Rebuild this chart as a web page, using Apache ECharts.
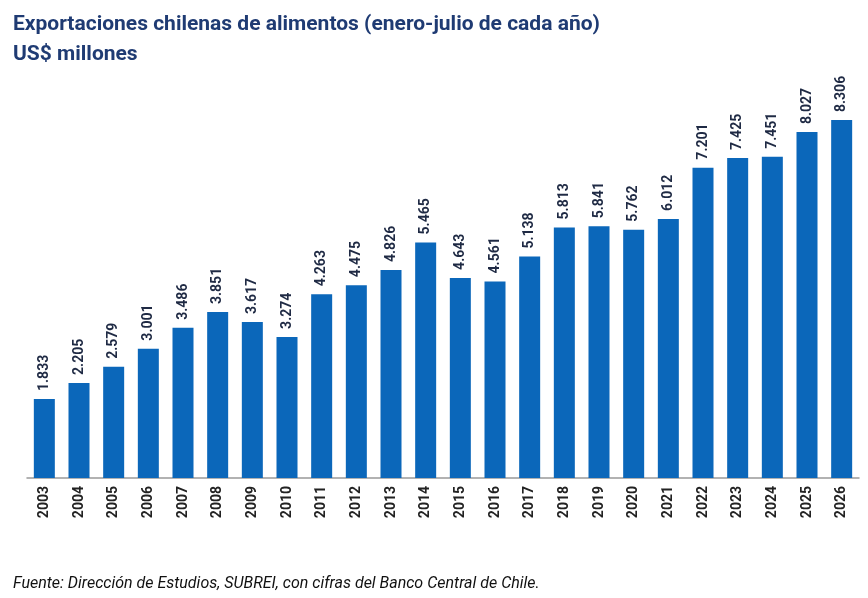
<!DOCTYPE html><html><head><meta charset="utf-8">
<script src="https://cdn.jsdelivr.net/npm/echarts@6/dist/echarts.min.js"></script>
<style>body{margin:0}#c{width:868px;height:598px}</style></head><body><div id="c"></div>
<script>
const years=['2003','2004','2005','2006','2007','2008','2009','2010','2011','2012','2013','2014','2015','2016','2017','2018','2019','2020','2021','2022','2023','2024','2025','2026'];
const values=[1833,2205,2579,3001,3486,3851,3617,3274,4263,4475,4826,5465,4643,4561,5138,5813,5841,5762,6012,7201,7425,7451,8027,8306];
const fmt=v=>String(v).replace(/\B(?=(\d{3})+(?!\d))/g,'.');
const ch=echarts.init(document.getElementById('c'));
ch.setOption({
 title:[{text:'Exportaciones chilenas de alimentos (enero-julio de cada año)\nUS$ millones',left:8,top:5,textStyle:{color:'#1F3B73',fontSize:21,fontWeight:'bold',fontFamily:'Roboto',lineHeight:30}},
  {text:'Fuente: Dirección de Estudios, SUBREI, con cifras del Banco Central de Chile.',left:8,top:571,textStyle:{color:'#111',fontSize:16,fontStyle:'italic',fontWeight:'normal',fontFamily:'Roboto'}}],
 grid:{left:27,right:9,top:47,bottom:120},
 xAxis:{type:'category',data:years,axisTick:{show:false},axisLine:{lineStyle:{color:'#999',width:1.5}},
  axisLabel:{rotate:90,color:'#222',fontWeight:'bold',fontSize:14,fontFamily:'Roboto',margin:8}},
 yAxis:{type:'value',min:0,max:10000,show:false},
 series:[{type:'bar',data:values,barWidth:21,itemStyle:{color:'#0B67BA'},
  label:{show:true,position:'top',rotate:90,align:'left',verticalAlign:'middle',distance:8,formatter:p=>fmt(p.value),color:'#1F2A44',fontWeight:'bold',fontSize:14,fontFamily:'Roboto'}}]
});
</script></body></html>
